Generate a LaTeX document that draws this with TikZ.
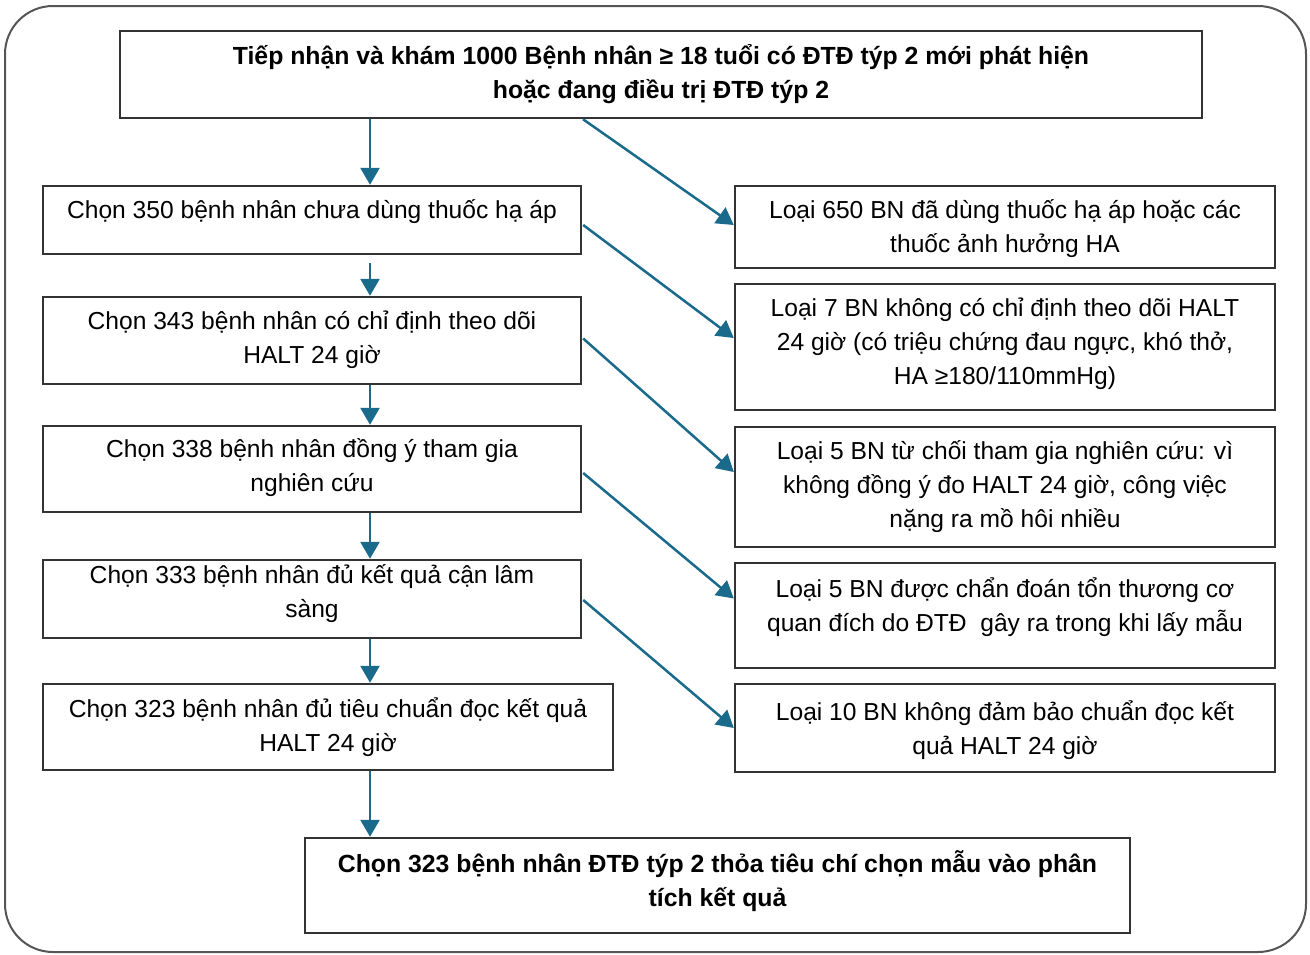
\documentclass[tikz,border=0pt]{standalone}
\usepackage{fontspec}
\setmainfont{Liberation Sans}
\usetikzlibrary{arrows.meta,calc}
\definecolor{arr}{HTML}{1A6A8C}
\definecolor{bord}{HTML}{333333}
\definecolor{outer}{HTML}{555555}
\tikzset{
  box/.style={draw=bord, line width=2.4pt, rectangle, inner sep=0pt},
  txt/.style={align=center, font=\fontsize{24.6}{34}\selectfont, inner sep=0pt},
  btxt/.style={align=center, font=\fontsize{24.8}{34}\selectfont\bfseries, inner sep=0pt},
  arrowline/.style={draw=arr, line width=2.5pt, -{Triangle[length=17pt,width=19pt]}}
}
\begin{document}
\begin{tikzpicture}[x=1pt,y=-1pt]
\useasboundingbox (0,0) rectangle (1310,954);
\draw[outer, line width=2pt, rounded corners=48pt] (5,6) rectangle (1306,952);
% boxes
\node[box, minimum width=1082pt, minimum height=87pt] (top) at (661,74.5) {};
\node[btxt] at (661,74) {Tiếp nhận và khám 1000 Bệnh nhân ≥ 18 tuổi có ĐTĐ týp 2 mới phát hiện\\hoặc đang điều trị ĐTĐ týp 2};
\node[box, minimum width=538pt, minimum height=68pt] (l1) at (312,220) {};
\node[txt] at (312,212) {Chọn 350 bệnh nhân chưa dùng thuốc hạ áp};
\node[box, minimum width=538pt, minimum height=87pt] (l2) at (312,340.5) {};
\node[txt] at (312,340) {Chọn 343 bệnh nhân có chỉ định theo dõi\\HALT 24 giờ};
\node[box, minimum width=538pt, minimum height=86pt] (l3) at (312,469) {};
\node[txt] at (312,468) {Chọn 338 bệnh nhân đồng ý tham gia\\nghiên cứu};
\node[box, minimum width=538pt, minimum height=78pt] (l4) at (312,599) {};
\node[txt] at (312,594) {Chọn 333 bệnh nhân đủ kết quả cận lâm\\sàng};
\node[box, minimum width=570pt, minimum height=86pt] (l5) at (328,727) {};
\node[txt] at (328,727) {Chọn 323 bệnh nhân đủ tiêu chuẩn đọc kết quả\\HALT 24 giờ};
\node[box, minimum width=540pt, minimum height=82pt] (r1) at (1005,227) {};
\node[txt] at (1005,229) {Loại 650 BN đã dùng thuốc hạ áp hoặc các\\thuốc ảnh hưởng HA};
\node[box, minimum width=540pt, minimum height=126pt] (r2) at (1005,347) {};
\node[txt] at (1005,344) {Loại 7 BN không có chỉ định theo dõi HALT\\24 giờ (có triệu chứng đau ngực, khó thở,\\HA ≥180/110mmHg)};
\node[box, minimum width=540pt, minimum height=120pt] (r3) at (1005,487) {};
\node[txt] at (1005,487) {Loại 5 BN từ chối tham gia nghiên cứu: vì\\không đồng ý đo HALT 24 giờ, công việc\\nặng ra mồ hôi nhiều};
\node[box, minimum width=540pt, minimum height=105pt] (r4) at (1005,615.5) {};
\node[txt] at (1005,607) {Loại 5 BN được chẩn đoán tổn thương cơ\\quan đích do ĐTĐ~ gây ra trong khi lấy mẫu};
\node[box, minimum width=540pt, minimum height=88pt] (r5) at (1005,728) {};
\node[txt] at (1005,730) {Loại 10 BN không đảm bảo chuẩn đọc kết\\quả HALT 24 giờ};
\node[box, minimum width=825pt, minimum height=95pt] (bot) at (717.5,885.5) {};
\node[btxt] at (717.5,881) {Chọn 323 bệnh nhân ĐTĐ týp 2 thỏa tiêu chí chọn mẫu vào phân\\tích kết quả};
% vertical arrows
\draw[arrowline] (top.south -| 370,0) -- (l1.north -| 370,0);
\draw[arrowline] ($(l1.south -| 370,0)+(0,8)$) -- (l2.north -| 370,0);
\draw[arrowline] (l2.south -| 370,0) -- (l3.north -| 370,0);
\draw[arrowline] (l3.south -| 370,0) -- (l4.north -| 370,0);
\draw[arrowline] (l4.south -| 370,0) -- (l5.north -| 370,0);
\draw[arrowline] (l5.south -| 370,0) -- (bot.north -| 370,0);
% diagonal arrows
\draw[arrowline] (top.south -| 583,0) -- ($(r1.west)+(0,-2)$);
\draw[arrowline] ($(l1.east)+(1,5)$) -- ($(r2.west)+(0,-9)$);
\draw[arrowline] ($(l2.east)+(1,-2)$) -- ($(r3.west)+(0,-15)$);
\draw[arrowline] ($(l3.east)+(1,4)$) -- ($(r4.west)+(0,-17)$);
\draw[arrowline] ($(l4.east)+(1,1)$) -- ($(r5.west)+(0,0)$);
\end{tikzpicture}
\end{document}
